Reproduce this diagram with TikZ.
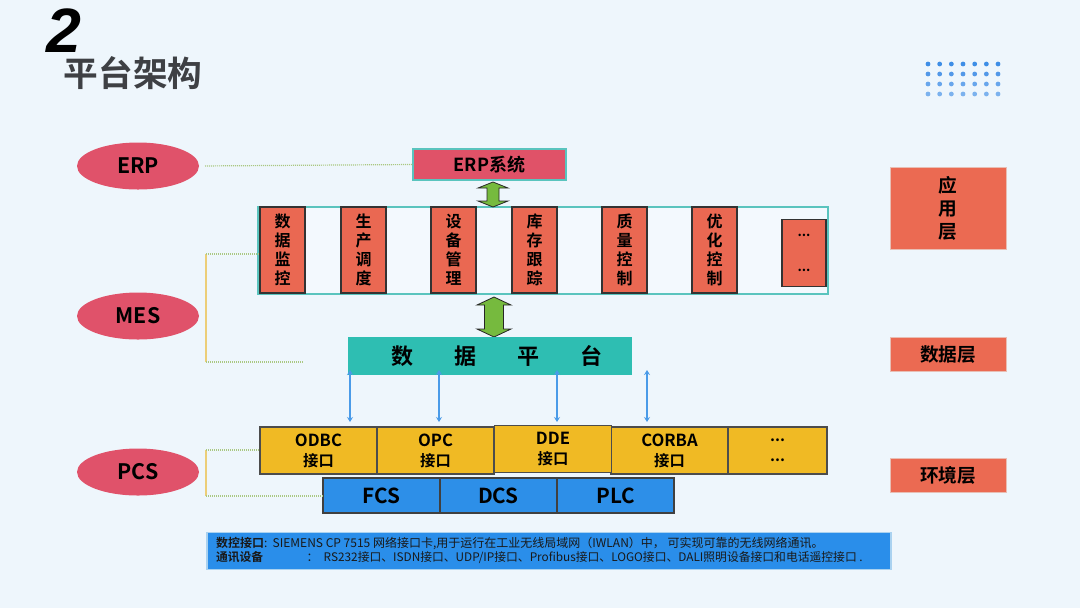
\documentclass[tikz,border=0pt]{standalone}
\usepackage{fontspec}
\setmainfont{Noto Sans CJK SC}[BoldFont={Noto Sans CJK SC Bold}]
\newfontfamily\digitfont{Liberation Sans}
\usetikzlibrary{shapes.geometric,arrows.meta}
\newcommand\pxu{0.75pt}
\newcommand\lat[1]{{\fontsize{12.5}{15}\selectfont #1}}
\definecolor{bg}{RGB}{238,246,252}
\definecolor{ellc}{RGB}{224,82,106}
\definecolor{erpc}{RGB}{224,82,104}
\definecolor{tealln}{RGB}{90,196,190}
\definecolor{mesc}{RGB}{234,104,82}
\definecolor{greenc}{RGB}{118,186,62}
\definecolor{platc}{RGB}{46,190,178}
\definecolor{bluear}{RGB}{74,155,232}
\definecolor{yelc}{RGB}{240,186,36}
\definecolor{bluebox}{RGB}{45,143,232}
\definecolor{layc}{RGB}{235,106,82}
\definecolor{layln}{RGB}{232,190,180}
\definecolor{notec}{RGB}{42,142,234}
\definecolor{noteln}{RGB}{170,210,240}
\definecolor{dotg}{RGB}{170,200,130}
\definecolor{yln}{RGB}{236,206,120}
\definecolor{titlec}{RGB}{62,64,68}
\definecolor{dotA}{RGB}{62,142,230}
\definecolor{dotB}{RGB}{82,152,232}
\definecolor{dotC}{RGB}{104,166,236}
\definecolor{dotD}{RGB}{124,178,238}
\definecolor{frmfill}{RGB}{243,249,254}
\begin{document}
\begin{tikzpicture}[x=0.75pt,y=-0.75pt,
  every node/.style={inner sep=0pt,outer sep=0pt},
  ellnode/.style={ellipse,fill=ellc,minimum width=122*\pxu,minimum height=47*\pxu,
    font=\bfseries\fontsize{16}{18}\selectfont},
  mesbox/.style={draw=black!80,line width=0.8pt,fill=mesc,minimum width=45*\pxu,minimum height=86*\pxu,
    align=center,font=\bfseries\fontsize{12}{14.25}\selectfont},
  ifbox/.style={draw=black!70,line width=0.8pt,fill=yelc,minimum width=117*\pxu,minimum height=47*\pxu,
    align=center,font=\bfseries\fontsize{11.5}{15}\selectfont},
  sysbox/.style={draw=black!75,line width=0.8pt,fill=bluebox,minimum width=117*\pxu,minimum height=35*\pxu,
    font=\bfseries\fontsize{15.5}{17}\selectfont},
  laybox/.style={draw=layln,line width=0.6pt,fill=layc,minimum width=116*\pxu,
    align=center,font=\bfseries\fontsize{14}{17}\selectfont},
  dotln/.style={dotg,line width=0.9pt,dash pattern=on 0.75pt off 0.75pt},
  yline/.style={yln,line width=1.2pt},
  barrow/.style={bluear,line width=0.9pt,arrows={Stealth[length=5*\pxu,width=6*\pxu]-Stealth[length=5*\pxu,width=6*\pxu]}},
  fatar/.style={fill=greenc,draw=black!85,line width=0.6pt,line join=miter}
]
\fill[bg] (0,0) rectangle (1080,608);
\useasboundingbox (0,0) rectangle (1080,608);

% title
\node[font=\digitfont\bfseries\itshape\fontsize{47}{47}\selectfont] (num) at (64,31) {2};
\node[text=titlec,font=\bfseries\fontsize{26}{30}\selectfont] (title) at (133,73) {平台架构};

% dot grid
\foreach \r/\c in {0/dotA,1/dotB,2/dotC,3/dotD}
  \foreach \i in {0,...,6}
    \fill[\c] (928+\i*11.67,64+\r*10) circle (1.8pt);

% left ellipses
\node[ellnode] (erp) at (138,166) {ERP};
\node[ellnode] (mes) at (138,316) {MES};
\node[ellnode] (pcs) at (138,472) {PCS};

% ERP system
\node[draw=tealln,line width=1pt,fill=erpc,minimum width=153*\pxu,minimum height=31*\pxu,
  font=\bfseries\fontsize{13.5}{15}\selectfont] (erpsys) at (489.5,164.5) {ERP系统};
\draw[dotln,shorten <=6*\pxu] (erp.east) -- (erpsys.west);

% MES frame
\node[draw=tealln,line width=1pt,fill=frmfill,minimum width=570*\pxu,minimum height=87*\pxu] (frame) at (543,250.5) {};
\node[mesbox] (m1) at (282.5,250) {数\\据\\监\\控};
\node[mesbox] (m2) at (363.5,250) {生\\产\\调\\度};
\node[mesbox] (m3) at (453.5,250) {设\\备\\管\\理};
\node[mesbox] (m4) at (534.5,250) {库\\存\\跟\\踪};
\node[mesbox] (m5) at (624.5,250) {质\\量\\控\\制};
\node[mesbox] (m6) at (714.5,250) {优\\化\\控\\制};
\node[mesbox,minimum width=44*\pxu,minimum height=67*\pxu,font=\bfseries\fontsize{10}{12}\selectfont] (m7) at (804,253) {...\\[14pt]...};

% green fat arrows
\draw[fatar] (493,182) -- (508,188) -- (499,188) -- (499,201) -- (508,201) -- (493,207)
  -- (478,201) -- (487,201) -- (487,188) -- (478,188) -- cycle;
\draw[fatar] (494,297) -- (511,305) -- (503.5,305) -- (503.5,329) -- (511,329) -- (494,337)
  -- (477,329) -- (484.5,329) -- (484.5,305) -- (477,305) -- cycle;

% data platform
\node[fill=platc,minimum width=284*\pxu,minimum height=38*\pxu] (plat) at (490,356) {};
\node[font=\bfseries\fontsize{16.5}{18}\selectfont] (plattext) at (497,356)
  {数\hspace{30.75pt}据\hspace{30.75pt}平\hspace{30.75pt}台};

% MES bracket
\coordinate (mb1) at (206,254);
\coordinate (mb2) at (206,362);
\coordinate (mbe) at (303,362);
\draw[yline] (mb1) -- (mb2);
\draw[dotln] (mb1) -- (m1.west |- mb1);
\draw[dotln] (mb2) -- (mbe);

% interface row
\node[ifbox] (i1) at (318.5,450.5) {\lat{ODBC}\\接口};
\node[ifbox] (i2) at (435.5,450.5) {\lat{OPC}\\接口};
\node[ifbox] (i4) at (669.5,450.5) {\lat{CORBA}\\接口};
\node[ifbox] (i3) at (553,449) {\lat{DDE}\\接口};
\node[ifbox,minimum width=99*\pxu] (i5) at (777.5,450.5) {...\\...};

% system row
\node[sysbox] (f1) at (381.5,495.5) {FCS};
\node[sysbox] (f2) at (498.5,495.5) {DCS};
\node[sysbox] (f3) at (615.5,495.5) {PLC};

% blue arrows
\coordinate (ba1) at (350,370); \coordinate (bb1) at (350,422);
\coordinate (ba2) at (439,370); \coordinate (bb2) at (439,422);
\coordinate (ba3) at (557,370); \coordinate (bb3) at (557,422);
\coordinate (ba4) at (647,370); \coordinate (bb4) at (647,422);
\draw[barrow] (ba1) -- (bb1);
\draw[barrow] (ba2) -- (bb2);
\draw[barrow] (ba3) -- (bb3);
\draw[barrow] (ba4) -- (bb4);

% PCS bracket
\coordinate (pb1) at (206,450);
\coordinate (pb2) at (206,496);
\draw[yline] (pb1) -- (pb2);
\draw[dotln] (pb1) -- (i1.west |- pb1);
\draw[dotln] (pb2) -- (f1.west |- pb2);

% layer labels
\node[laybox,minimum height=82*\pxu,font=\bfseries\fontsize{14}{17.25}\selectfont] (lapp) at (948,208) {应\\用\\层};
\node[laybox,minimum height=34*\pxu] (ldata) at (948,354) {数据层};
\node[laybox,minimum height=34*\pxu] (lenv) at (948,475) {环境层};

% note
\node[draw=noteln,line width=0.8pt,fill=notec,minimum width=684*\pxu,minimum height=37*\pxu] (note) at (549,551) {};
\node[anchor=west,font=\fontsize{9}{11}\selectfont,text=black!90] (n1) at (216,543)
  {{\bfseries 数控接口}:\ \ SIEMENS CP 7515 网络接口卡,用于运行在工业无线局域网（IWLAN）中，\ 可实现可靠的无线网络通讯。};
\node[anchor=west,font=\fontsize{8.85}{11}\selectfont,text=black!90] (n2) at (216,558)
  {\makebox[68pt][l]{\bfseries 通讯设备}：\ \ RS232接口、ISDN接口、UDP/IP接口、Profibus接口、LOGO接口、DALI照明设备接口和电话遥控接口 .};
\end{tikzpicture}
\end{document}
